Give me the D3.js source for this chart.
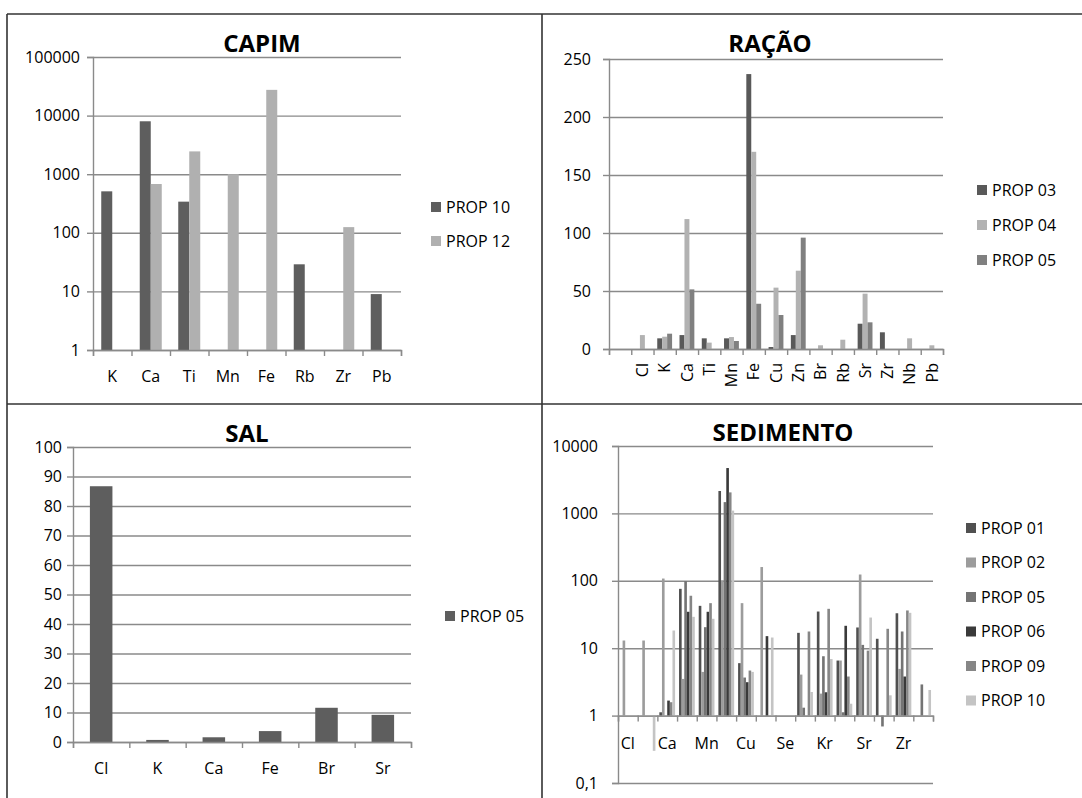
<!DOCTYPE html>
<html>
<head>
<meta charset="utf-8">
<script src="https://cdn.jsdelivr.net/npm/d3@7"></script>
<style>
  body { margin: 0; background: #fff; }
  svg text { font-family: "Open Sans", "Liberation Sans", sans-serif; fill: #000; }
</style>
</head>
<body>
<svg id="chart" width="1082" height="798"></svg>
<script>
// ---- data ----
const capimCats = ["K", "Ca", "Ti", "Mn", "Fe", "Rb", "Zr", "Pb"];
const capimNames = ["PROP 10", "PROP 12"];
const capimProp10 = [510, 8000, 340, null, null, 29, null, 9];
const capimProp12 = [null, 680, 2450, 1000, 27500, null, 125, null];
const capimTicks = [1, 10, 100, 1000, 10000, 100000];

const racaoCats = ["", "Cl", "K", "Ca", "Ti", "Mn", "Fe", "Cu", "Zn", "Br", "Rb", "Sr", "Zr", "Nb", "Pb"];
const racaoNames = ["PROP 03", "PROP 04", "PROP 05"];
const racaoProp03 = [null, null, 9.2, 12, 9.2, 9.2, 237, 1.7, 12, null, null, 21.8, 14.4, null, null];
const racaoProp04 = [null, 12, 10.6, 112, 5.5, 10.3, 170, 52.9, 67.5, 3.2, 8, 47.7, null, 9.2, 3.2];
const racaoProp05 = [null, null, 13.2, 51.4, null, 6.9, 39, 29.3, 96, null, null, 23, null, null, null];
const racaoTicks = [0, 50, 100, 150, 200, 250];

const salCats = ["Cl", "K", "Ca", "Fe", "Br", "Sr"];
const salNames = ["PROP 05"];
const salProp05 = [86.7, 0.7, 1.6, 3.7, 11.6, 9.2];
const salTicks = [0, 10, 20, 30, 40, 50, 60, 70, 80, 90, 100];

const sedCats = ["Cl", "K", "Ca", "Ti", "Mn", "Fe", "Cu", "Zn", "Se", "Br", "Kr", "Rb", "Sr", "Y", "Zr", "Nb"];
const sedNames = ["PROP 01", "PROP 02", "PROP 05", "PROP 06", "PROP 09", "PROP 10"];
const sedProp01 = [null, null, 1.12, 76, 42.5, 2150, 6.0, null, null, 16.9, 35, 6.56, 20.3, 13.8, 33, null];
const sedProp02 = [13, 13, 108, 3.5, 4.45, 101, 46.6, 160, null, 4.06, 2.12, 6.56, 124, null, 4.93, null];
const sedProp05 = [null, null, null, 99, 20.5, 1470, 3.67, null, null, 1.31, 7.6, 1.12, 11.2, 0.69, 17.7, 2.9];
const sedProp06 = [null, null, 1.67, 34.7, 34.7, 4710, 3.13, 15.1, null, null, 2.22, 21.5, null, null, 3.8, null];
const sedProp09 = [null, null, 1.58, 60, 46.6, 2050, 4.66, null, null, 17.7, 38.4, 3.8, 9.2, 19.4, 36.3, null];
const sedProp10 = [null, 0.3, 18.3, 29.2, 27.3, 1100, 4.45, 14.4, null, 2.24, 6.9, 1.5, 28.5, 2.0, 33.5, 2.4];
const sedTicks = [0.1, 1, 10, 100, 1000, 10000];

const svg = d3.select("#chart");
const gridColor = "#8a8a8a";

function drawPanel(p) {
  const g = svg.append("g");
  const n = p.cats.length;

  const x = d3.scaleBand().domain(d3.range(n)).range([p.x0, p.x1]).padding(0);
  const step = x.step();
  const w = step / (p.series.length + 1.5);   // excel gap width 150%
  const xs = d3.scaleBand().domain(d3.range(p.series.length))
    .range([0.75 * w, 0.75 * w + p.series.length * w]);
  const xEdge = d3.scaleLinear().domain([0, n]).range([p.x0, p.x1]);

  // gridlines
  g.append("g")
    .attr("transform", `translate(${p.x0},0)`)
    .call(d3.axisLeft(p.y).tickValues(p.ticks).tickSize(-(p.x1 - p.x0)).tickFormat(""))
    .call(a => a.select(".domain").remove())
    .call(a => a.selectAll("line").attr("stroke", gridColor).attr("stroke-width", 1.4));

  // y axis
  g.append("g")
    .attr("transform", `translate(${p.x0},0)`)
    .call(d3.axisLeft(p.y).tickValues(p.ticks).tickSize(6).tickPadding(p.yPad).tickFormat(p.fmt))
    .call(a => a.select(".domain").attr("stroke", gridColor).attr("stroke-width", 1.4))
    .call(a => a.selectAll("line").attr("stroke", gridColor).attr("stroke-width", 1.4))
    .call(a => a.selectAll("text").style("font-size", "16px").attr("fill", "#000"));

  // bars
  p.series.forEach((s, si) => {
    g.append("g").selectAll("rect")
      .data(s.values.map((v, i) => ({ v, i })).filter(d => d.v != null))
      .join("rect")
      .attr("x", d => x(d.i) + xs(si))
      .attr("width", xs.bandwidth())
      .attr("y", d => Math.min(p.y(d.v), p.y(p.base)))
      .attr("height", d => Math.abs(p.y(d.v) - p.y(p.base)))
      .attr("fill", s.color);
  });

  // x axis (category boundaries)
  const yb = p.y(p.base);
  g.append("g")
    .attr("transform", `translate(0,${yb})`)
    .call(d3.axisBottom(xEdge).tickValues(d3.range(n + 1)).tickSize(6).tickFormat(""))
    .call(a => a.select(".domain").attr("stroke", gridColor).attr("stroke-width", 1.4))
    .call(a => a.selectAll("line").attr("stroke", gridColor).attr("stroke-width", 1.4));

  // category labels
  const lab = g.append("g")
    .attr("transform", `translate(0,${yb})`)
    .call(d3.axisBottom(x).tickSize(0).tickPadding(p.xPad)
      .tickFormat(i => (p.showLabel ? p.showLabel(i) : true) ? p.cats[i] : ""))
    .call(a => a.select(".domain").remove())
    .call(a => a.selectAll("text").style("font-size", "16px").attr("fill", "#000"));
  if (p.rotate) {
    lab.selectAll("text")
      .attr("transform", "rotate(-90)")
      .attr("y", 0).attr("x", -p.xPad)
      .attr("dy", "0.36em")
      .attr("text-anchor", "end");
  }

  // title
  g.append("text")
    .attr("x", p.titleX).attr("y", p.titleY)
    .attr("text-anchor", "middle")
    .style("font-size", "24px").style("font-weight", "bold")
    .text(p.title);

  // legend
  const leg = g.append("g").selectAll("g")
    .data(p.series)
    .join("g")
    .attr("transform", (d, i) => `translate(${p.legX},${p.legY + i * p.legStep})`);
  leg.append("rect").attr("x", 0).attr("y", -5).attr("width", 10).attr("height", 10)
    .attr("fill", d => d.color);
  leg.append("text").attr("x", 15).attr("y", 0).attr("dy", "0.35em")
    .style("font-size", "16px").text(d => d.name);
}

// CAPIM
drawPanel({
  title: "CAPIM", titleX: 262, titleY: 52,
  cats: capimCats,
  series: [
    { name: capimNames[0], values: capimProp10, color: "#5e5e5e" },
    { name: capimNames[1], values: capimProp12, color: "#b0b0b0" }
  ],
  x0: 93, x1: 401,
  y: d3.scaleLog().domain([1, 100000]).range([350, 57]),
  ticks: capimTicks, fmt: d3.format("d"), base: 1,
  yPad: 7, xPad: 21,
  legX: 431, legY: 207, legStep: 34
});

// RACAO
drawPanel({
  title: "RAÇÃO", titleX: 770, titleY: 52,
  cats: racaoCats,
  series: [
    { name: racaoNames[0], values: racaoProp03, color: "#595959" },
    { name: racaoNames[1], values: racaoProp04, color: "#b2b2b2" },
    { name: racaoNames[2], values: racaoProp05, color: "#808080" }
  ],
  x0: 609, x1: 943,
  y: d3.scaleLinear().domain([0, 250]).range([349, 59]),
  ticks: racaoTicks, fmt: d3.format("d"), base: 0,
  yPad: 12, xPad: 14, rotate: true,
  legX: 977, legY: 190, legStep: 35
});

// SAL
drawPanel({
  title: "SAL", titleX: 247, titleY: 442,
  cats: salCats,
  series: [{ name: salNames[0], values: salProp05, color: "#5e5e5e" }],
  x0: 73, x1: 411,
  y: d3.scaleLinear().domain([0, 100]).range([742, 447]),
  ticks: salTicks, fmt: d3.format("d"), base: 0,
  yPad: 5, xPad: 21,
  legX: 445, legY: 616, legStep: 34
});

// SEDIMENTO
drawPanel({
  title: "SEDIMENTO", titleX: 783, titleY: 441,
  cats: sedCats,
  series: [
    { name: sedNames[0], values: sedProp01, color: "#505050" },
    { name: sedNames[1], values: sedProp02, color: "#9c9c9c" },
    { name: sedNames[2], values: sedProp05, color: "#747474" },
    { name: sedNames[3], values: sedProp06, color: "#3a3a3a" },
    { name: sedNames[4], values: sedProp09, color: "#868686" },
    { name: sedNames[5], values: sedProp10, color: "#c4c4c4" }
  ],
  x0: 618, x1: 933,
  y: d3.scaleLog().domain([0.1, 10000]).range([783, 446]),
  ticks: sedTicks, fmt: v => v < 1 ? "0,1" : d3.format("d")(v), base: 1,
  yPad: 14, xPad: 22,
  showLabel: i => i % 2 === 0,
  legX: 966, legY: 528, legStep: 34.5
});

// panel frame
const frame = [[7, 14, 1082, 14], [7, 14, 7, 798], [542, 14, 542, 798], [7, 404, 1082, 404]];
svg.append("g").selectAll("line")
  .data(frame)
  .join("line")
  .attr("x1", d => d[0]).attr("y1", d => d[1])
  .attr("x2", d => d[2]).attr("y2", d => d[3])
  .attr("stroke", "#333").attr("stroke-width", 1.6);
</script>
</body>
</html>
